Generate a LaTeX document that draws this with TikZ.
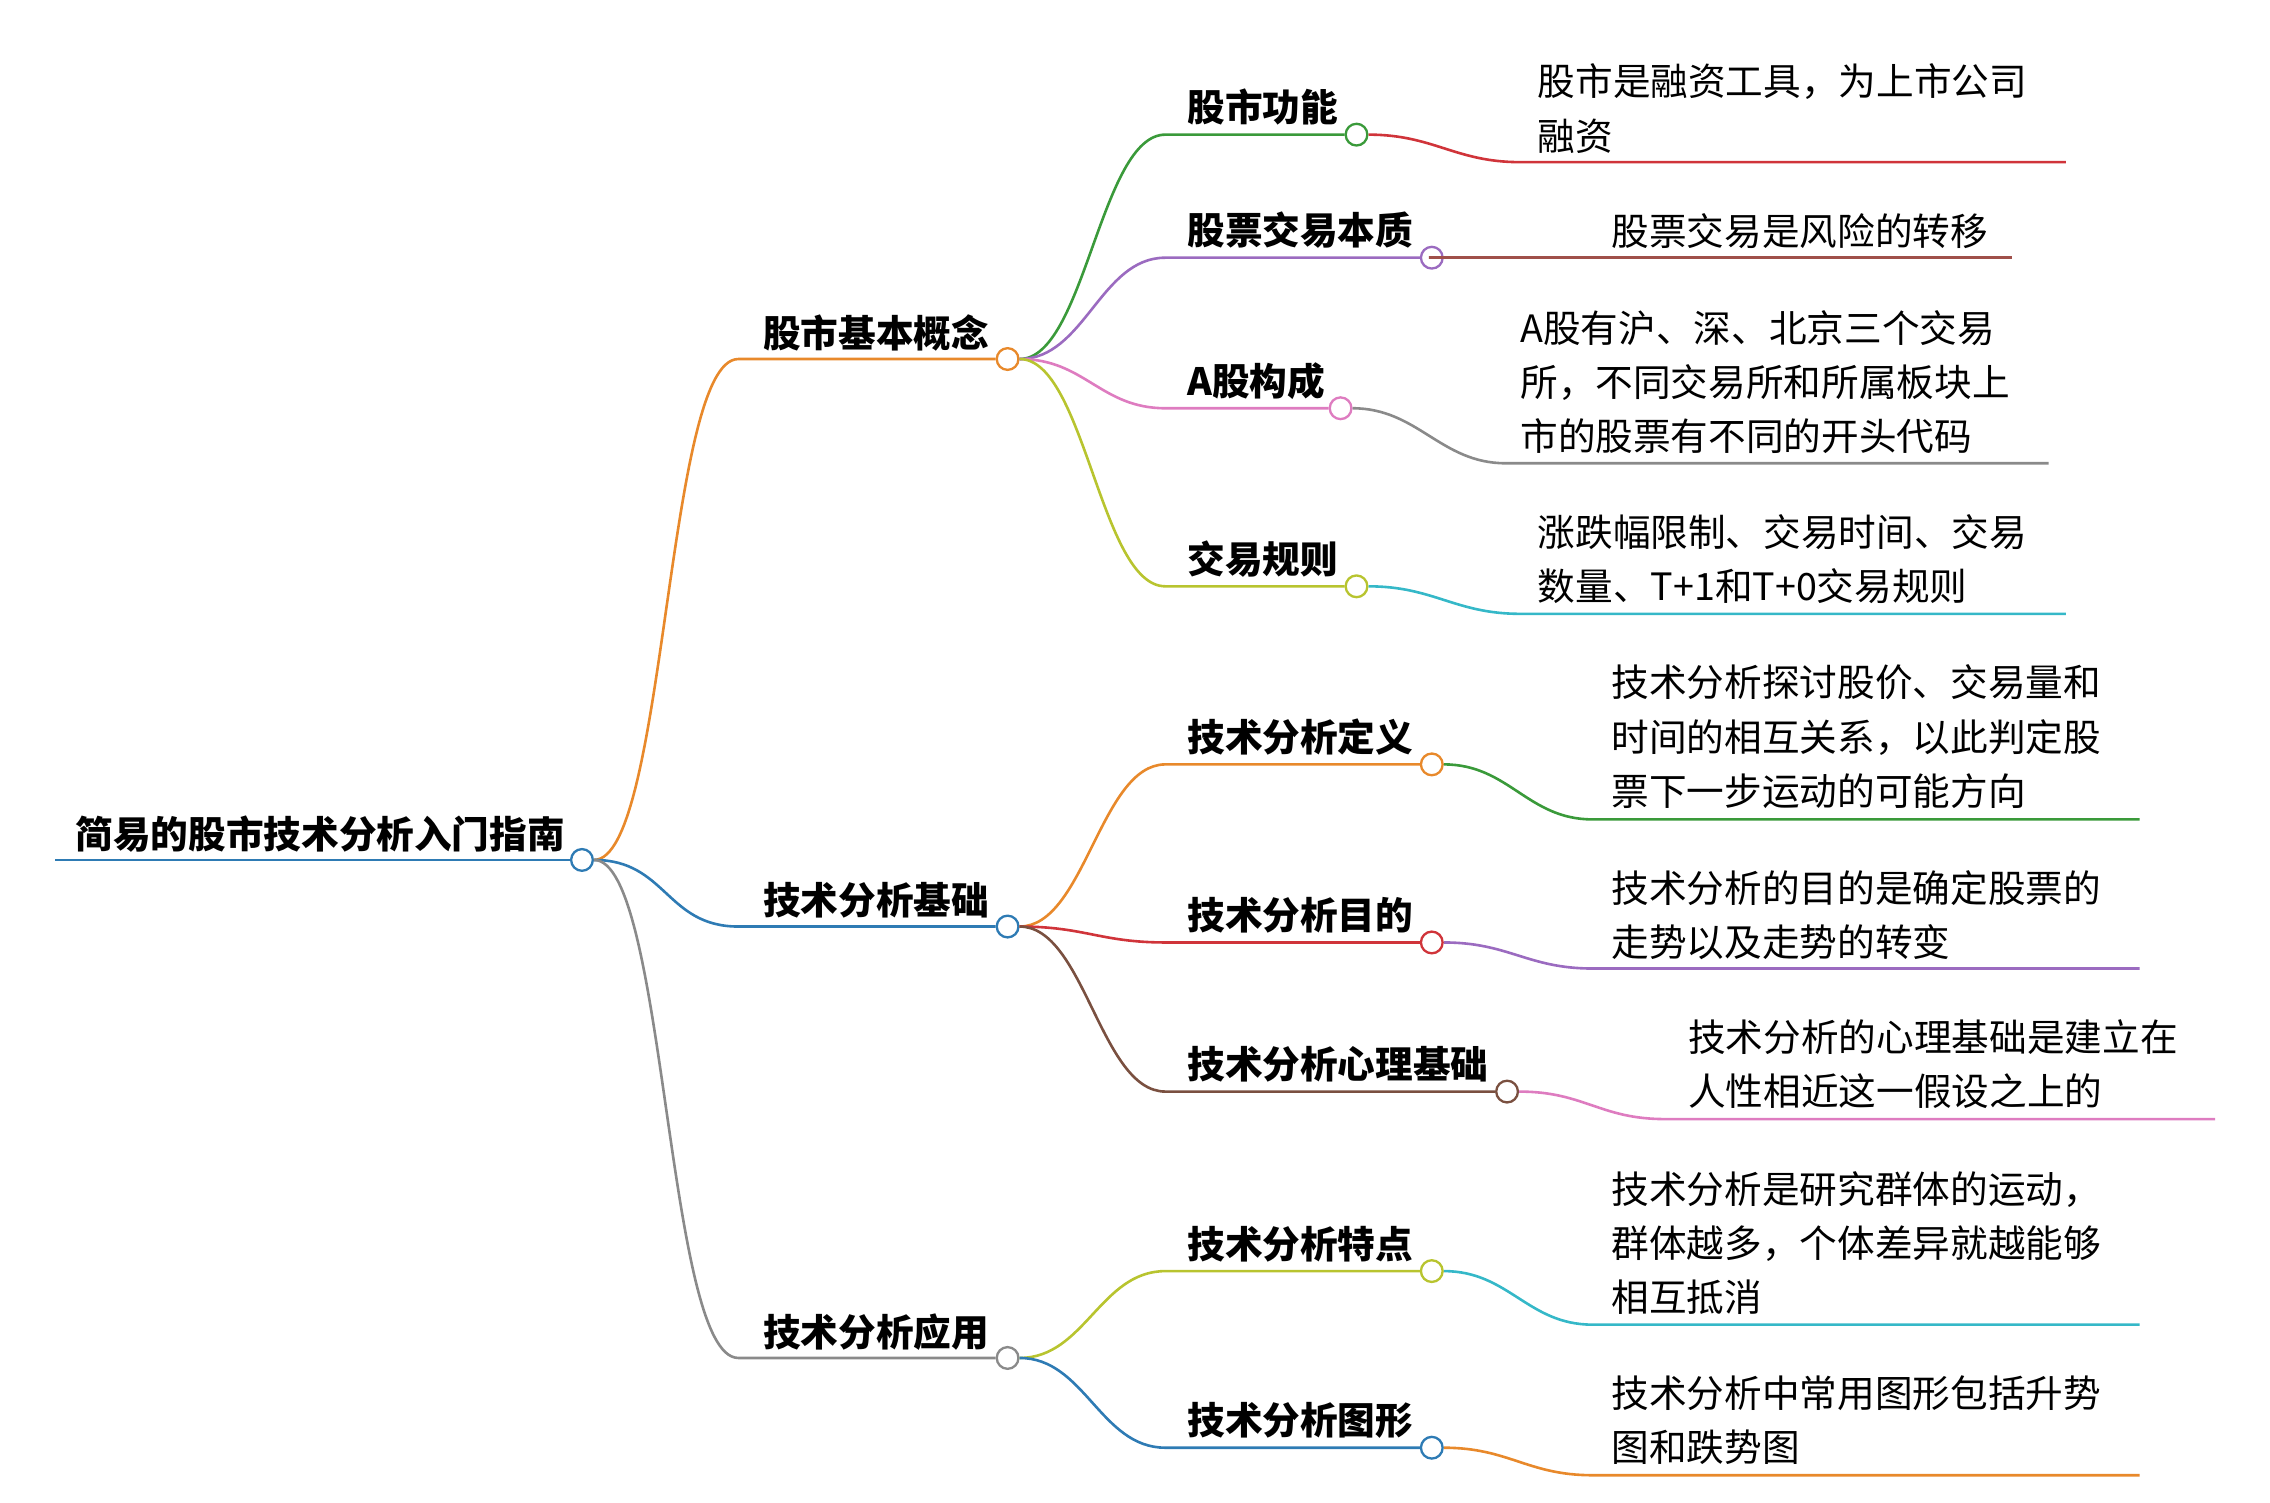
\documentclass[tikz,border=0pt]{standalone}
\usepackage{fontspec}
\setmainfont{Noto Sans CJK SC}
\begin{document}
\begin{tikzpicture}[x=1pt,y=-1pt,
 dot/.style={circle,draw=#1,fill=white,line width=1.6pt,minimum size=15pt,inner sep=0pt},
 ln/.style={draw=#1,line width=1.8pt},
 ttl/.style={anchor=base west,inner sep=0pt,font=\fontsize{26}{30}\selectfont\bfseries},
 lf/.style={anchor=north west,inner sep=0pt,align=left,font=\fontsize{26}{37.5}\selectfont}]
\useasboundingbox (0,0) rectangle (1568,1038);
\definecolor{cor}{HTML}{E8892B}\definecolor{cbl}{HTML}{2E7BB4}\definecolor{cgy}{HTML}{8A8A8A}
\definecolor{cgr}{HTML}{3A9A3A}\definecolor{cpu}{HTML}{9B6BC0}\definecolor{cpk}{HTML}{DE7CC0}
\definecolor{cyg}{HTML}{B8C42F}\definecolor{crd}{HTML}{D0343A}\definecolor{cbr}{HTML}{7A5040}
\definecolor{ccy}{HTML}{35B8C8}\definecolor{clb}{HTML}{A0504A}
% root
\coordinate (r0) at (38,594);
\node[dot=cbl] (R) at (402,594) {};
\draw[ln=cbl] (r0) -- (R.west);
\node[ttl] at (52,586) {简易的股市技术分析入门指南};
% level 1
\foreach \n/\y/\c/\t in {A/248/cor/股市基本概念,B/640/cbl/技术分析基础,C/938/cgy/技术分析应用}{
 \coordinate (s\n) at (510,\y);
 \node[dot=\c] (\n) at (696,\y) {};
 \draw[ln=\c] (R.east) .. controls +(50,0) and +(-50,0) .. (s\n) -- (\n.west);
 \node[ttl] at (527,\y-8) {\t};
}
% level 2
\foreach \p/\n/\x/\y/\c/\t in {A/a1/937/93/cgr/股市功能,A/a2/989/178/cpu/股票交易本质,A/a3/926/282/cpk/A股构成,A/a4/937/405/cyg/交易规则,B/b1/989/528/cor/技术分析定义,B/b2/989/651/crd/技术分析目的,B/b3/1041/754/cbr/技术分析心理基础,C/c1/989/878/cyg/技术分析特点,C/c2/989/1000/cbl/技术分析图形}{
 \coordinate (s\n) at (805,\y);
 \node[dot=\c] (\n) at (\x,\y) {};
 \draw[ln=\c] (\p.east) .. controls +(45,0) and +(-45,0) .. (s\n) -- (\n.west);
 \node[ttl] at (820,\y-9) {\t};
}
% leaves
\foreach \n/\ly/\lx/\ex/\c in {a1/112/1050/1427/crd,a2/178/1000/1390/clb,a3/320/1040/1415/cgy,a4/424/1050/1427/ccy,b1/566/1100/1478/cgr,b2/669/1100/1478/cpu,b3/773/1150/1530/cpk,c1/915/1100/1478/ccy,c2/1019/1100/1478/cor}{
 \coordinate (l\n) at (\lx,\ly);
 \coordinate (e\n) at (\ex,\ly);
 \draw[ln=\c] (\n.east) .. controls +(45,0) and +(-45,0) .. (l\n) -- (e\n);
}
\node[lf] at (1062,44) {股市是融资工具，为上市公司\\融资};
\node[lf] at (1113,147) {股票交易是风险的转移};
\node[lf] at (1050,214) {A股有沪、深、北京三个交易\\所，不同交易所和所属板块上\\市的股票有不同的开头代码};
\node[lf] at (1062,355) {涨跌幅限制、交易时间、交易\\数量、T+1和T+0交易规则};
\node[lf] at (1113,459) {技术分析探讨股价、交易量和\\时间的相互关系，以此判定股\\票下一步运动的可能方向};
\node[lf] at (1113,601) {技术分析的目的是确定股票的\\走势以及走势的转变};
\node[lf] at (1166,704) {技术分析的心理基础是建立在\\人性相近这一假设之上的};
\node[lf] at (1113,809) {技术分析是研究群体的运动，\\群体越多，个体差异就越能够\\相互抵消};
\node[lf] at (1113,950) {技术分析中常用图形包括升势\\图和跌势图};
\end{tikzpicture}
\end{document}
